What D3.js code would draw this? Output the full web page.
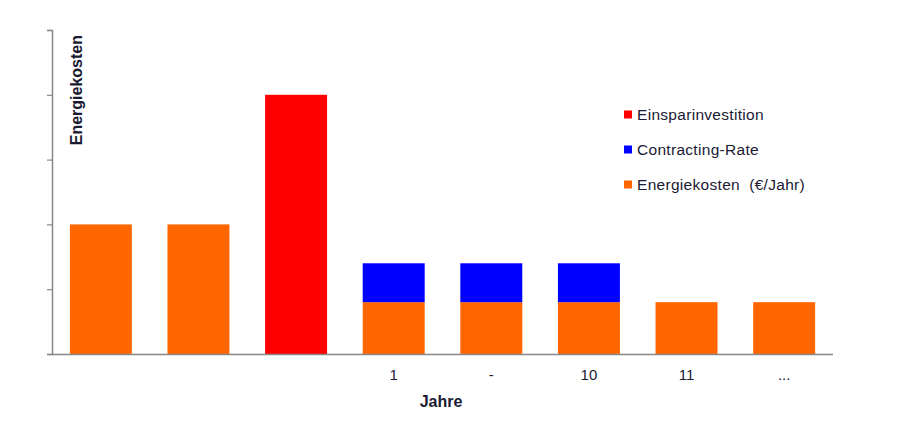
<!DOCTYPE html>
<html><head><meta charset="utf-8">
<script src="https://cdn.jsdelivr.net/npm/d3@7"></script>
<style>body{margin:0;background:#fff}svg{display:block}text{font-family:"Liberation Sans",Arial,sans-serif;fill:#1a1a33}</style>
</head><body>
<script>
const categories = ["", "", "", "1", "-", "10", "11", "..."];
const energiekosten = [2, 2, 0, 0.8, 0.8, 0.8, 0.8, 0.8];
const contractingRate = [0, 0, 0, 0.6, 0.6, 0.6, 0, 0];
const einsparinvestition = [0, 0, 4, 0, 0, 0, 0, 0];
const colors = ["#FF6600", "#0000FF", "#FF0000"];
const legendOrder = [2, 1, 0];
const legendLabels = ["Energiekosten\u00a0 (€/Jahr)", "Contracting-Rate", "Einsparinvestition"];

const W = 900, H = 445;
const svg = d3.select("body").append("svg").attr("width", W).attr("height", H);
const x0 = 52, x1 = 833, yTop = 30, yBot = 354;

const x = d3.scaleBand().domain(d3.range(categories.length)).range([x0, x1]).paddingInner(0.365).paddingOuter(0.183);
const y = d3.scaleLinear().domain([0, 5]).range([yBot, yTop]);

const table = categories.map((c, i) => ({i, s0: energiekosten[i], s1: contractingRate[i], s2: einsparinvestition[i]}));
const stack = d3.stack().keys(["s0", "s1", "s2"])(table);

stack.forEach((layer, k) => {
  svg.append("g").selectAll("rect").data(layer.filter(d => d[1] > d[0])).join("rect")
    .attr("x", d => x(d.data.i))
    .attr("width", x.bandwidth())
    .attr("y", d => y(d[1]))
    .attr("height", d => y(d[0]) - y(d[1]))
    .attr("fill", colors[k]);
});

// y axis
const ya = svg.append("g").attr("transform", `translate(${x0},0)`)
  .call(d3.axisLeft(y).ticks(5).tickSize(5).tickFormat(""));
ya.select(".domain").attr("stroke", "#888").attr("stroke-width", 1.5);
ya.selectAll(".tick line").attr("stroke", "#888").attr("stroke-width", 1.2);

// x axis
const xa = svg.append("g").attr("transform", `translate(0,${yBot})`)
  .call(d3.axisBottom(x).tickSize(0).tickPadding(0).tickFormat(i => categories[i]));
xa.select(".domain").attr("stroke", "#888").attr("stroke-width", 1.5).attr("d", `M${x0},0.5H${x1}`);
xa.selectAll(".tick text").attr("y", 26).attr("dy", 0).style("font-size", "15px").style("fill", "#1a1a33").style("font-family", "'Liberation Sans',Arial,sans-serif");

svg.append("text").attr("x", 441).attr("y", 407).attr("text-anchor", "middle")
  .style("font-size", "16px").style("font-weight", "bold").text("Jahre");

svg.append("text").attr("transform", "translate(82,35) rotate(-90)").attr("text-anchor", "end")
  .style("font-size", "16px").style("font-weight", "bold").text("Energiekosten");

// legend
const lg = svg.append("g");
const rowsY = [114.5, 149.5, 184.5];
legendOrder.forEach((k, r) => {
  lg.append("rect").attr("x", 624).attr("y", rowsY[r] - 4).attr("width", 8).attr("height", 8).attr("fill", colors[k]);
  lg.append("text").attr("x", 637).attr("y", rowsY[r] + 5.5).style("font-size", "15.5px").style("letter-spacing", "0.3px").text(legendLabels[k]);
});
</script>
</body></html>
